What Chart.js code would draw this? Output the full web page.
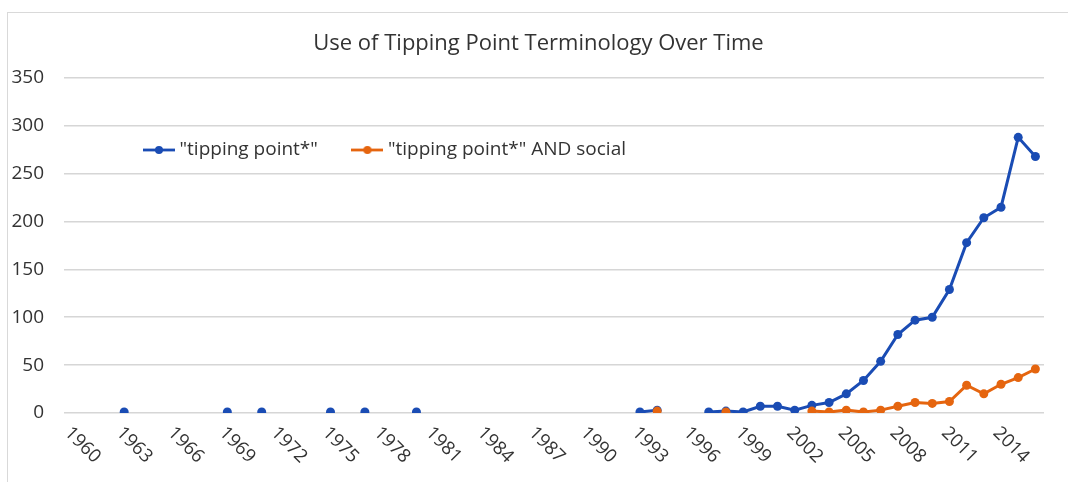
<!DOCTYPE html>
<html lang="en">
<head>
<meta charset="UTF-8">
<title>Use of Tipping Point Terminology Over Time</title>
<script src="https://cdn.jsdelivr.net/npm/chart.js"></script>
<style>
  html, body { margin: 0; padding: 0; background: #fff; overflow: hidden; }
  #wrap { position: relative; width: 1068px; height: 482px; }
  #frame { position: absolute; left: 7px; top: 12px; width: 1100px; height: 500px; border: 1px solid #d9d9d9; box-sizing: border-box; }
  canvas { position: absolute; left: 0; top: 0; }
</style>
</head>
<body>
<div id="wrap">
  <div id="frame"></div>
  <canvas id="chart" width="1068" height="482"></canvas>
</div>
<script>
// categories: one per year, 1960-2016
const years = ['1960','1961','1962','1963','1964','1965','1966','1967','1968','1969',
  '1970','1971','1972','1973','1974','1975','1976','1977','1978','1979',
  '1980','1981','1982','1983','1984','1985','1986','1987','1988','1989',
  '1990','1991','1992','1993','1994','1995','1996','1997','1998','1999',
  '2000','2001','2002','2003','2004','2005','2006','2007','2008','2009',
  '2010','2011','2012','2013','2014','2015','2016'];

// "tipping point*"
const tippingPoint = [null, null, null, 1, null, null, null, null, null, 1,
  null, 1, null, null, null, 1, null, 1, null, null,
  1, null, null, null, null, null, null, null, null, null,
  null, null, null, 1, 3, null, null, 1, 2, 1,
  7, 7, 3, 8, 11, 20, 34, 54, 82, 97,
  100, 129, 178, 204, 215, 288, 268];

// "tipping point*" AND social
const tippingSocial = [null, null, null, null, null, null, null, null, null, null,
  null, null, null, null, null, null, null, null, null, null,
  null, null, null, null, null, null, null, null, null, null,
  null, null, null, null, 2, null, null, null, 1, null,
  null, null, null, 2, 1, 3, 1, 3, 7, 11,
  10, 12, 29, 20, 30, 37, 46];

const yTicks = [0, 50, 100, 150, 200, 250, 300, 350];
const seriesNames = ['"tipping point*"', '"tipping point*" AND social'];

const BLUE = '#1a4cb4';
const ORANGE = '#e5650f';
const TEXT = '#333333';
const FONT = '"Open Sans", "Liberation Sans", sans-serif';

// line-with-dot legend symbol, like the spreadsheet legend
function legendSymbol(color) {
  const c = document.createElement('canvas');
  c.width = 32; c.height = 10;
  const g = c.getContext('2d');
  g.strokeStyle = color; g.lineWidth = 2.8;
  g.beginPath(); g.moveTo(0, 5); g.lineTo(32, 5); g.stroke();
  g.fillStyle = color;
  g.beginPath(); g.arc(16, 5, 4, 0, Math.PI * 2); g.fill();
  return c;
}
const symbols = [legendSymbol(BLUE), legendSymbol(ORANGE)];

// year labels slanted downward to the right (every third year)
const slantedYears = {
  id: 'slantedYears',
  afterDraw(chart) {
    const xs = chart.scales.x;
    const ctx = chart.ctx;
    ctx.save();
    ctx.font = '18.5px ' + FONT;
    ctx.fillStyle = TEXT;
    ctx.textAlign = 'left';
    ctx.textBaseline = 'middle';
    years.forEach((y, i) => {
      if ((Number(y) - Number(years[0])) % 3 !== 0) return;
      const px = xs.getPixelForValue(i);
      ctx.save();
      ctx.translate(px - 5, xs.top + 17);
      ctx.rotate(Math.PI / 4);
      ctx.fillText(y, 0, 0);
      ctx.restore();
    });
    ctx.restore();
  }
};

// legend laid out as one row, sitting inside the plot below the 300 gridline;
// title nudged to the centre of the framed box
const placeBlocks = {
  id: 'placeBlocks',
  beforeUpdate(chart) {
    if (chart.legend) chart.legend.isHorizontal = () => true;
  },
  afterUpdate(chart) {
    const area = chart.chartArea;
    const lg = chart.legend;
    lg.left = area.left + 45.5;
    lg.right = area.right;
    lg.top = area.top + 24;
    lg.adjustHitBoxes();
    const tb = chart.titleBlock;
    tb.left += 16.5;
    tb.right += 16.5;
  }
};

new Chart(document.getElementById('chart'), {
  type: 'line',
  data: {
    labels: years,
    datasets: [
      {
        label: seriesNames[0],
        data: tippingPoint,
        borderColor: BLUE,
        backgroundColor: BLUE,
        borderWidth: 3,
        pointRadius: 4.5,
        pointBorderWidth: 0,
        spanGaps: false,
        order: 1
      },
      {
        label: seriesNames[1],
        data: tippingSocial,
        borderColor: ORANGE,
        backgroundColor: ORANGE,
        borderWidth: 3,
        pointRadius: 4.5,
        pointBorderWidth: 0,
        spanGaps: false,
        order: 0
      }
    ]
  },
  options: {
    responsive: false,
    animation: false,
    layout: { padding: { left: 0, right: 24, top: 0, bottom: 0 } },
    plugins: {
      title: {
        display: true,
        text: 'Use of Tipping Point Terminology Over Time',
        color: TEXT,
        font: { family: FONT, size: 22, weight: 'normal' },
        padding: { top: 31, bottom: 20.6 }
      },
      legend: {
        position: 'chartArea',
        align: 'start',
        labels: {
          usePointStyle: true,
          pointStyleWidth: 22,
          padding: 38.5,
          color: TEXT,
          font: { family: FONT, size: 19 },
          generateLabels(chart) {
            const items = Chart.defaults.plugins.legend.labels.generateLabels(chart);
            items.sort((a, b) => a.datasetIndex - b.datasetIndex);
            items.forEach(it => { it.pointStyle = symbols[it.datasetIndex]; });
            return items;
          }
        }
      },
      tooltip: { enabled: false }
    },
    scales: {
      x: {
        offset: true,
        grid: { display: false },
        border: { display: false },
        ticks: { display: false },
        afterFit(scale) { scale.height = 69; }
      },
      y: {
        min: 0,
        max: 350,
        afterBuildTicks(scale) { scale.ticks = yTicks.map(v => ({ value: v })); },
        grid: { color: '#d6d6d6', lineWidth: 1.6, drawTicks: false },
        border: { display: false },
        ticks: { color: TEXT, padding: 20, font: { family: FONT, size: 19 } },
        afterFit(scale) { scale.width = 64; }
      }
    }
  },
  plugins: [slantedYears, placeBlocks]
});
</script>
</body>
</html>
